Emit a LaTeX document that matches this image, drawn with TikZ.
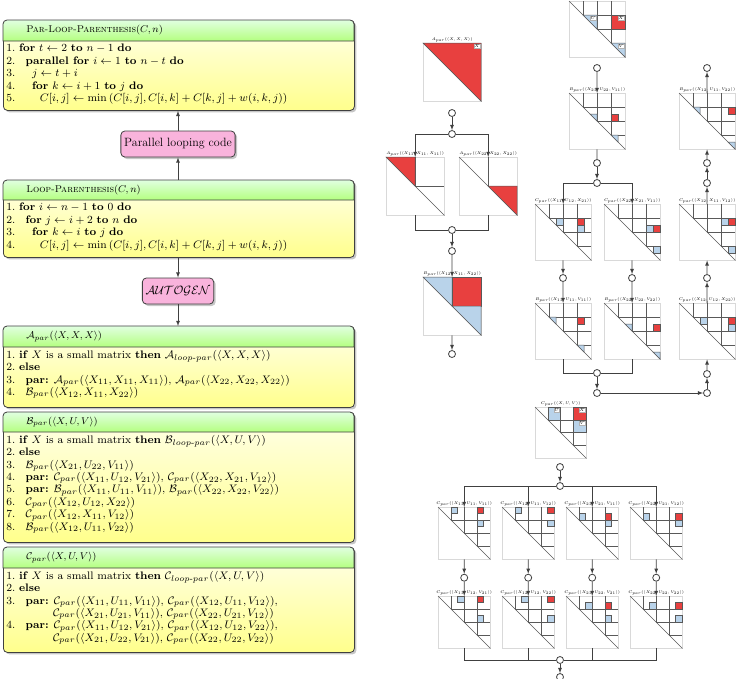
\documentclass[tikz,border=0pt]{standalone}
\usepackage{amsmath,amssymb}
\usetikzlibrary{shadows,arrows,calc}

\definecolor{cellred}{HTML}{E8403F}
\definecolor{cellblue}{HTML}{B9D3EA}

% triangular matrix: name, x, y, size, cells per side, label
\newcommand\trimat[6]{%
  \node[mat, minimum size=#4pt, anchor=north west] (#1) at (#2,#3) {};
  \node[mlbl, anchor=south] at (#1.north) {#6};
  \draw[grid] (#1.north west) -- (#1.south east);
  \ifnum#5>1
    \pgfmathtruncatemacro\mlast{#5-1}
    \foreach \k in {1,...,\mlast}{%
      \pgfmathsetmacro\p{\k*#4/#5}
      \draw[grid] ({#2+\p},#3) -- ({#2+\p},{#3+\p}) -- ({#2+#4},{#3+\p});}
  \fi}
% one cell: x, y, size, cells per side, row, column, colour
\newcommand\mcell[7]{%
  \ifnum#5=#6
    \filldraw[grid, fill=#7] ({#1+#5*#3/#4},{#2+#5*#3/#4}) -- ({#1+(#5+1)*#3/#4},{#2+#5*#3/#4})
      -- ({#1+(#5+1)*#3/#4},{#2+(#5+1)*#3/#4}) -- cycle;
  \else
    \filldraw[grid, fill=#7] ({#1+#6*#3/#4},{#2+#5*#3/#4}) rectangle ({#1+(#6+1)*#3/#4},{#2+(#5+1)*#3/#4});
  \fi}
% letter in a cell corner: x, y, size, cells per side, row, column, text
\newcommand\mtag[7]{%
  \node[mtag, anchor=north east] at ({#1+(#6+1)*#3/#4-1},{#2+#5*#3/#4+1}) {#7};}
% algorithm box: name, top, header bottom, bottom, title, body
\newcommand\algbox[6]{%
  \node[box, minimum height={#4-#2}, anchor=north west] (#1) at (3,#2) {};
  \draw[hdr] (3,#3) {[rounded corners=4pt] -- (3,#2) -- (354,#2)} -- (354,#3) -- cycle;
  \node[anchor=west, font=\footnotesize, scale=1.23, transform shape] (#1-t) at (22,{(#2+#3)/2}) {#5};
  \node[anchor=north west, align=left, inner sep=0pt, font=\fontsize{8}{9.1}\selectfont, scale=1.36, transform shape] (#1-b) at (6,#3+3) {#6};}
\newcommand\kw[1]{\textbf{#1}}
\newcommand\ang[1]{(\langle #1\rangle)}

\begin{document}
\begin{tikzpicture}[x=1pt, y=-1pt]
  \useasboundingbox (0,0) rectangle (743,678);
  \tikzstyle{box}=[draw=black!75, thick, rounded corners=4pt, minimum width=351pt, top color=yellow!8, bottom color=yellow!45,
    drop shadow={opacity=0.45, shadow xshift=2pt, shadow yshift=-2pt}]
  \tikzstyle{hdr}=[draw=black!75, thick, top color=green!12, bottom color=green!45!lime!50]
  \tikzstyle{pink}=[draw=black!75, thick, rounded corners=4pt, fill=magenta!30, minimum height=26pt, font=\large,
    drop shadow={opacity=0.45, shadow xshift=2pt, shadow yshift=-2pt}]
  \tikzstyle{arr}=[-latex, thick, black!75]
  \tikzstyle{ln}=[thick, black!75]
  \tikzstyle{mat}=[draw=gray!30, fill=white, inner sep=0pt]
  \tikzstyle{grid}=[draw=black!65, line width=0.5pt]
  \tikzstyle{mlbl}=[font=\tiny, scale=0.78, transform shape, inner sep=1pt]
  \tikzstyle{mtag}=[font=\tiny, scale=0.85, transform shape, fill=white, draw=gray!60, inner sep=0.6pt]
  \tikzstyle{jn}=[circle, draw=black!75, thick, fill=white, inner sep=0pt, minimum size=7pt]

  % left: code boxes
  \algbox{parloop}{20}{41}{110}{\textsc{Par-Loop-Parenthesis}$(C,n)$}{%
    1.\ \kw{for} $t\leftarrow 2$ \kw{to} $n-1$ \kw{do}\\
    2.\ \hspace{0.6em}\kw{parallel for} $i\leftarrow 1$ \kw{to} $n-t$ \kw{do}\\
    3.\ \hspace{1.2em}$j\leftarrow t+i$\\
    4.\ \hspace{1.2em}\kw{for} $k\leftarrow i+1$ \kw{to} $j$ \kw{do}\\
    5.\ \hspace{1.9em}$C[i,j]\leftarrow\min\left(C[i,j],C[i,k]+C[k,j]+w(i,k,j)\right)$}
  \algbox{loop}{180}{200}{257}{\textsc{Loop-Parenthesis}$(C,n)$}{%
    1.\ \kw{for} $i\leftarrow n-1$ \kw{to} $0$ \kw{do}\\
    2.\ \hspace{0.6em}\kw{for} $j\leftarrow i+2$ \kw{to} $n$ \kw{do}\\
    3.\ \hspace{1.2em}\kw{for} $k\leftarrow i$ \kw{to} $j$ \kw{do}\\
    4.\ \hspace{1.9em}$C[i,j]\leftarrow\min\left(C[i,j],C[i,k]+C[k,j]+w(i,k,j)\right)$}
  \algbox{apar}{326}{347}{407}{$\mathcal{A}_{par}\ang{X,X,X}$}{%
    1.\ \kw{if} $X$ is a small matrix \kw{then} $\mathcal{A}_{loop\text{-}par}\ang{X,X,X}$\\
    2.\ \kw{else}\\
    3.\ \hspace{0.6em}\kw{par:} $\mathcal{A}_{par}\ang{X_{11},X_{11},X_{11}}$, $\mathcal{A}_{par}\ang{X_{22},X_{22},X_{22}}$\\
    4.\ \hspace{0.6em}$\mathcal{B}_{par}\ang{X_{12},X_{11},X_{22}}$}
  \algbox{bpar}{412}{432}{542}{$\mathcal{B}_{par}\ang{X,U,V}$}{%
    1.\ \kw{if} $X$ is a small matrix \kw{then} $\mathcal{B}_{loop\text{-}par}\ang{X,U,V}$\\
    2.\ \kw{else}\\
    3.\ \hspace{0.6em}$\mathcal{B}_{par}\ang{X_{21},U_{22},V_{11}}$\\
    4.\ \hspace{0.6em}\kw{par:} $\mathcal{C}_{par}\ang{X_{11},U_{12},V_{21}}$, $\mathcal{C}_{par}\ang{X_{22},X_{21},V_{12}}$\\
    5.\ \hspace{0.6em}\kw{par:} $\mathcal{B}_{par}\ang{X_{11},U_{11},V_{11}}$, $\mathcal{B}_{par}\ang{X_{22},X_{22},V_{22}}$\\
    6.\ \hspace{0.6em}$\mathcal{C}_{par}\ang{X_{12},U_{12},X_{22}}$\\
    7.\ \hspace{0.6em}$\mathcal{C}_{par}\ang{X_{12},X_{11},V_{12}}$\\
    8.\ \hspace{0.6em}$\mathcal{B}_{par}\ang{X_{12},U_{11},V_{22}}$}
  \algbox{cpar}{547}{568}{652}{$\mathcal{C}_{par}\ang{X,U,V}$}{%
    1.\ \kw{if} $X$ is a small matrix \kw{then} $\mathcal{C}_{loop\text{-}par}\ang{X,U,V}$\\
    2.\ \kw{else}\\
    3.\ \hspace{0.6em}\kw{par:} $\mathcal{C}_{par}\ang{X_{11},U_{11},V_{11}}$, $\mathcal{C}_{par}\ang{X_{12},U_{11},V_{12}}$,\\
    \hspace{4.3em}$\mathcal{C}_{par}\ang{X_{21},U_{21},V_{11}}$, $\mathcal{C}_{par}\ang{X_{22},U_{21},V_{12}}$\\
    4.\ \hspace{0.6em}\kw{par:} $\mathcal{C}_{par}\ang{X_{11},U_{12},V_{21}}$, $\mathcal{C}_{par}\ang{X_{12},U_{12},V_{22}}$,\\
    \hspace{4.3em}$\mathcal{C}_{par}\ang{X_{21},U_{22},V_{21}}$, $\mathcal{C}_{par}\ang{X_{22},U_{22},V_{22}}$}

  \node[pink] (plc) at (178,144) {Parallel looping code};
  \node[pink] (auto) at (178,291) {$\mathcal{AUTOGEN}$};
  \draw[arr] (loop.north -| plc) -- (plc);
  \draw[arr] (plc) -- (parloop.south -| plc);
  \draw[arr] (loop.south -| auto) -- (auto);
  \draw[arr] (auto) -- (apar.north -| auto);

  % right: A
  \trimat{ax}{423}{43}{58}{1}{$A_{par}\ang{X,X,X}$}
  \mcell{423}{43}{58}{1}{0}{0}{cellred}
  \mtag{423}{43}{58}{1}{0}{0}{$X$}
  \trimat{a11}{386}{157}{58}{2}{$A_{par}\ang{X_{11},X_{11},X_{11}}$}
  \mcell{386}{157}{58}{2}{0}{0}{cellred}
  \trimat{a22}{459}{157}{58}{2}{$A_{par}\ang{X_{22},X_{22},X_{22}}$}
  \mcell{459}{157}{58}{2}{1}{1}{cellred}
  \trimat{ab}{423}{277}{58}{2}{$B_{par}\ang{X_{12},X_{11},X_{22}}$}
  \mcell{423}{277}{58}{2}{0}{0}{cellblue}
  \mcell{423}{277}{58}{2}{0}{1}{cellred}
  \mcell{423}{277}{58}{2}{1}{1}{cellblue}
  \node[jn] (a1) at (452,113) {};
  \node[jn] (a2) at (452,134) {};
  \node[jn] (a3) at (452,230) {};
  \node[jn] (a4) at (452,251) {};
  \node[jn] (a5) at (452,354) {};
  \draw[arr] (a1) -- (a2);
  \draw[arr] (a2) -| (a11);
  \draw[arr] (a2) -| (a22);
  \draw[ln] (a11) |- (a3);
  \draw[ln] (a22) |- (a3);
  \draw[arr] (a3) -- (a4);
  \draw[arr] (a4) -- (ab);
  \draw[arr] (ab) -- (a5);

  % right: B
  \trimat{bx}{569}{1}{56}{4}{$B_{par}\ang{X,U,V}$}
  \mcell{569}{1}{56}{4}{1}{1}{cellblue}
  \mcell{569}{1}{56}{4}{1}{3}{cellred}
  \mcell{569}{1}{56}{4}{3}{3}{cellblue}
  \mtag{569}{1}{56}{4}{1}{1}{$U$}
  \mtag{569}{1}{56}{4}{1}{3}{$X$}
  \mtag{569}{1}{56}{4}{3}{3}{$V$}
  \trimat{b1}{569}{93}{56}{4}{$B_{par}\ang{X_{21},U_{22},V_{11}}$}
  \mcell{569}{93}{56}{8}{3}{3}{cellblue}
  \mcell{569}{93}{56}{8}{3}{6}{cellred}
  \mcell{569}{93}{56}{8}{6}{6}{cellblue}
  \trimat{b2}{535}{204}{56}{4}{$C_{par}\ang{X_{11},U_{12},X_{21}}$}
  \mcell{535}{204}{56}{8}{2}{3}{cellblue}
  \mcell{535}{204}{56}{8}{2}{6}{cellred}
  \mcell{535}{204}{56}{8}{3}{6}{cellblue}
  \trimat{b3}{604}{204}{56}{4}{$C_{par}\ang{X_{22},X_{21},V_{11}}$}
  \mcell{604}{204}{56}{8}{3}{6}{cellblue}
  \mcell{604}{204}{56}{8}{3}{7}{cellred}
  \mcell{604}{204}{56}{8}{6}{7}{cellblue}
  \trimat{b4}{535}{303}{56}{4}{$B_{par}\ang{X_{11},U_{11},V_{11}}$}
  \mcell{535}{303}{56}{8}{2}{2}{cellblue}
  \mcell{535}{303}{56}{8}{2}{6}{cellred}
  \mcell{535}{303}{56}{8}{6}{6}{cellblue}
  \trimat{b5}{604}{303}{56}{4}{$B_{par}\ang{X_{22},U_{22},V_{22}}$}
  \mcell{604}{303}{56}{8}{3}{3}{cellblue}
  \mcell{604}{303}{56}{8}{3}{7}{cellred}
  \mcell{604}{303}{56}{8}{7}{7}{cellblue}
  \trimat{b6}{679}{93}{56}{4}{$B_{par}\ang{X_{12},U_{11},V_{22}}$}
  \mcell{679}{93}{56}{8}{2}{2}{cellblue}
  \mcell{679}{93}{56}{8}{2}{7}{cellred}
  \mcell{679}{93}{56}{8}{7}{7}{cellblue}
  \trimat{b7}{679}{204}{56}{4}{$C_{par}\ang{X_{12},X_{11},V_{12}}$}
  \mcell{679}{204}{56}{8}{2}{6}{cellblue}
  \mcell{679}{204}{56}{8}{2}{7}{cellred}
  \mcell{679}{204}{56}{8}{6}{7}{cellblue}
  \trimat{b8}{679}{303}{56}{4}{$C_{par}\ang{X_{12},U_{12},X_{22}}$}
  \mcell{679}{303}{56}{8}{2}{3}{cellblue}
  \mcell{679}{303}{56}{8}{2}{7}{cellred}
  \mcell{679}{303}{56}{8}{3}{7}{cellblue}
  \node[jn] (d1) at (597,68) {};
  \node[jn] (d2) at (597,163) {};
  \node[jn] (d3) at (597,183) {};
  \node[jn] (d4) at (563,278) {};
  \node[jn] (d5) at (632,278) {};
  \node[jn] (d6) at (597,373) {};
  \node[jn] (d7) at (597,393) {};
  \node[jn] (d8) at (707,393) {};
  \node[jn] (d9) at (707,374) {};
  \node[jn] (e1) at (707,278) {};
  \node[jn] (e2) at (707,183) {};
  \node[jn] (e3) at (707,163) {};
  \node[jn] (e4) at (707,68) {};
  \draw[arr] (d1) -- (b1);
  \draw[ln] (b1) -- (d2);
  \draw[arr] (d2) -- (d3);
  \draw[arr] (d3) -| (b2);
  \draw[arr] (d3) -| (b3);
  \draw[arr] (b2) -- (d4);
  \draw[arr] (d4) -- (b4);
  \draw[arr] (b3) -- (d5);
  \draw[arr] (d5) -- (b5);
  \draw[ln] (b4) |- (d6);
  \draw[ln] (b5) |- (d6);
  \draw[arr] (d6) -- (d7);
  \draw[arr] (d7) -- (d8);
  \draw[arr] (d8) -- (d9);
  \draw[arr] (d9) -- (b8);
  \draw[arr] (b8) -- (e1);
  \draw[arr] (e1) -- (b7);
  \draw[arr] (b7) -- (e2);
  \draw[arr] (e2) -- (e3);
  \draw[arr] (e3) -- (b6);
  \draw[arr] (b6) -- (e4);

  % right: C
  \trimat{cx}{535}{407}{51}{4}{$C_{par}\ang{X,U,V}$}
  \mcell{535}{407}{51}{4}{0}{1}{cellblue}
  \mcell{535}{407}{51}{4}{0}{3}{cellred}
  \mcell{535}{407}{51}{4}{1}{3}{cellblue}
  \mtag{535}{407}{51}{4}{0}{1}{$U$}
  \mtag{535}{407}{51}{4}{0}{3}{$X$}
  \mtag{535}{407}{51}{4}{1}{3}{$V$}
  \trimat{c1}{438}{507}{52}{4}{$C_{par}\ang{X_{11},U_{11},V_{11}}$}
  \mcell{438}{507}{52}{8}{0}{2}{cellblue}
  \mcell{438}{507}{52}{8}{0}{6}{cellred}
  \mcell{438}{507}{52}{8}{2}{6}{cellblue}
  \trimat{c2}{502}{507}{52}{4}{$C_{par}\ang{X_{12},U_{11},V_{12}}$}
  \mcell{502}{507}{52}{8}{0}{2}{cellblue}
  \mcell{502}{507}{52}{8}{0}{7}{cellred}
  \mcell{502}{507}{52}{8}{2}{7}{cellblue}
  \trimat{c3}{566}{507}{52}{4}{$C_{par}\ang{X_{21},U_{21},V_{11}}$}
  \mcell{566}{507}{52}{8}{1}{2}{cellblue}
  \mcell{566}{507}{52}{8}{1}{6}{cellred}
  \mcell{566}{507}{52}{8}{2}{6}{cellblue}
  \trimat{c4}{630}{507}{52}{4}{$C_{par}\ang{X_{22},U_{21},V_{12}}$}
  \mcell{630}{507}{52}{8}{1}{2}{cellblue}
  \mcell{630}{507}{52}{8}{1}{7}{cellred}
  \mcell{630}{507}{52}{8}{2}{7}{cellblue}
  \trimat{c5}{438}{596}{52}{4}{$C_{par}\ang{X_{11},U_{12},V_{21}}$}
  \mcell{438}{596}{52}{8}{0}{3}{cellblue}
  \mcell{438}{596}{52}{8}{0}{6}{cellred}
  \mcell{438}{596}{52}{8}{3}{6}{cellblue}
  \trimat{c6}{502}{596}{52}{4}{$C_{par}\ang{X_{12},U_{12},V_{22}}$}
  \mcell{502}{596}{52}{8}{0}{3}{cellblue}
  \mcell{502}{596}{52}{8}{0}{7}{cellred}
  \mcell{502}{596}{52}{8}{3}{7}{cellblue}
  \trimat{c7}{566}{596}{52}{4}{$C_{par}\ang{X_{21},U_{22},V_{21}}$}
  \mcell{566}{596}{52}{8}{1}{3}{cellblue}
  \mcell{566}{596}{52}{8}{1}{6}{cellred}
  \mcell{566}{596}{52}{8}{3}{6}{cellblue}
  \trimat{c8}{630}{596}{52}{4}{$C_{par}\ang{X_{22},U_{22},V_{22}}$}
  \mcell{630}{596}{52}{8}{1}{3}{cellblue}
  \mcell{630}{596}{52}{8}{1}{7}{cellred}
  \mcell{630}{596}{52}{8}{3}{7}{cellblue}
  \node[jn] (g1) at (560,467) {};
  \node[jn] (g2) at (560,486) {};
  \node[jn] (g3) at (560,660) {};
  \node[jn] (g4) at (560,677) {};
  \draw[arr] (g1) -- (g2);
  \foreach \m in {c1,c2,c3,c4}
    \draw[arr] (g2) -| (\m);
  \foreach \m/\n [count=\i] in {c1/c5,c2/c6,c3/c7,c4/c8}{
    \node[jn] (h\i) at ($(\m.south)!0.5!(\n.north)$) {};
    \draw[arr] (\m) -- (h\i);
    \draw[arr] (h\i) -- (\n);
    \draw[ln] (\n) |- (g3);}
  \draw[arr] (g3) -- (g4);
\end{tikzpicture}
\end{document}
